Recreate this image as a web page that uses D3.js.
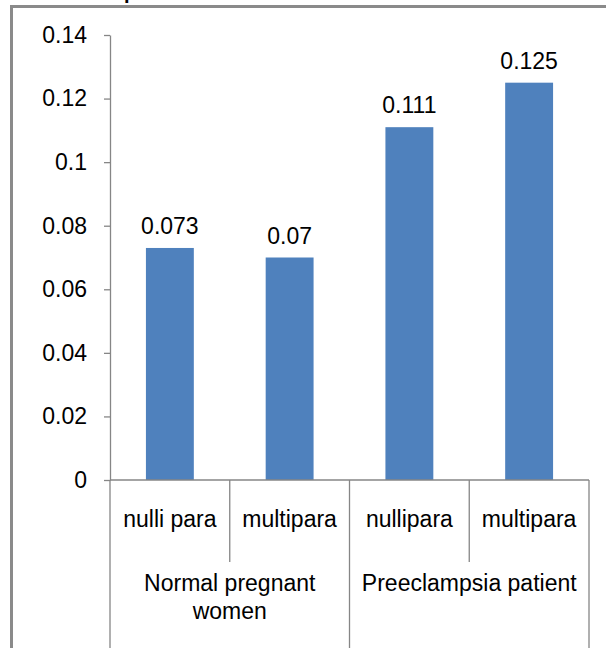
<!DOCTYPE html>
<html>
<head>
<meta charset="utf-8">
<script src="https://cdn.jsdelivr.net/npm/d3@7"></script>
<style>
  html, body { margin: 0; padding: 0; background: #fff; }
  svg { display: block; }
  text { font-family: "Liberation Sans", Arial, sans-serif; fill: #000; }
</style>
</head>
<body>
<svg id="chart" width="606" height="648"></svg>
<script>
// ── data ────────────────────────────────────────────────────────────────
const subCategories = ['nulli para', 'multipara', 'nullipara', 'multipara'];
const groups = [
  { lines: ['Normal pregnant', 'women'], from: 0, to: 2 },
  { lines: ['Preeclampsia patient'], from: 2, to: 4 }
];
const values = [0.073, 0.07, 0.111, 0.125];
const valueLabels = ['0.073', '0.07', '0.111', '0.125'];
const yTicks = [0, 0.02, 0.04, 0.06, 0.08, 0.1, 0.12, 0.14];
const yTickLabels = ['0', '0.02', '0.04', '0.06', '0.08', '0.1', '0.12', '0.14'];

// ── layout ──────────────────────────────────────────────────────────────
const plot = { left: 110, right: 589, top: 35, bottom: 480 };
const axisColor = '#868686';
const barColor = '#4F81BD';
const fs = 23;

const svg = d3.select('#chart');

// outer chart frame (cropped on right / bottom)
svg.append('line').attr('x1', 12).attr('x2', 606).attr('y1', 6.5).attr('y2', 6.5)
  .attr('stroke', '#8a8a8a').attr('stroke-width', 3);
svg.append('line').attr('x1', 11.5).attr('x2', 11.5).attr('y1', 5).attr('y2', 648)
  .attr('stroke', '#8a8a8a').attr('stroke-width', 3);

// clipped title descender peeking in at the top
svg.append('text').attr('x', 124).attr('y', -1)
  .attr('font-size', 20).attr('font-weight', 'bold').text('p');

const x = d3.scaleBand().domain(d3.range(subCategories.length))
  .range([plot.left, plot.right]).padding(0);
const y = d3.scaleLinear().domain([0, 0.14]).range([plot.bottom, plot.top]);
const barW = x.bandwidth() / 2.5;

// y axis
const yAxis = svg.append('g').attr('transform', `translate(${plot.left},0)`)
  .call(d3.axisLeft(y).tickValues(yTicks).tickSize(6).tickSizeOuter(0).tickPadding(17)
    .tickFormat((d, i) => yTickLabels[i]));
yAxis.select('.domain').attr('stroke', axisColor).attr('stroke-width', 1.3);
yAxis.selectAll('.tick line').attr('stroke', axisColor).attr('stroke-width', 1.3);
yAxis.selectAll('.tick text').attr('font-size', fs).attr('fill', '#000')
  .attr('font-family', '"Liberation Sans", Arial, sans-serif');

// bars
svg.append('g').selectAll('rect').data(values).join('rect')
  .attr('x', (d, i) => x(i) + (x.bandwidth() - barW) / 2)
  .attr('width', barW)
  .attr('y', d => y(d))
  .attr('height', d => y(0) - y(d))
  .attr('fill', barColor);

// data labels
svg.append('g').selectAll('text').data(values).join('text')
  .attr('x', (d, i) => x(i) + x.bandwidth() / 2)
  .attr('y', d => y(d) - 14)
  .attr('text-anchor', 'middle')
  .attr('font-size', fs)
  .text((d, i) => valueLabels[i]);

// x axis line
svg.append('line').attr('x1', plot.left).attr('x2', plot.right)
  .attr('y1', y(0)).attr('y2', y(0))
  .attr('stroke', axisColor).attr('stroke-width', 1.3);

// category dividers: inner ones stop under level 1, group bounds go to bottom
const level1Bottom = 562;
const boundaries = d3.range(subCategories.length + 1);
const groupEdges = new Set([0, ...groups.map(g => g.to)]);
svg.append('g').selectAll('line').data(boundaries).join('line')
  .attr('x1', i => i < subCategories.length ? x(i) : plot.right)
  .attr('x2', i => i < subCategories.length ? x(i) : plot.right)
  .attr('y1', y(0))
  .attr('y2', i => groupEdges.has(i) ? 648 : level1Bottom)
  .attr('stroke', axisColor).attr('stroke-width', 1.3);

// level 1 labels
svg.append('g').selectAll('text').data(subCategories).join('text')
  .attr('x', (d, i) => x(i) + x.bandwidth() / 2)
  .attr('y', 527)
  .attr('text-anchor', 'middle')
  .attr('font-size', fs)
  .text(d => d);

// level 2 labels
groups.forEach(g => {
  const cx = (x(g.from) + (g.to < subCategories.length ? x(g.to) : plot.right)) / 2;
  const t = svg.append('text').attr('x', cx).attr('y', 591)
    .attr('text-anchor', 'middle').attr('font-size', fs);
  g.lines.forEach((ln, k) => {
    t.append('tspan').attr('x', cx).attr('dy', k === 0 ? 0 : 28).text(ln);
  });
});
</script>
</body>
</html>
